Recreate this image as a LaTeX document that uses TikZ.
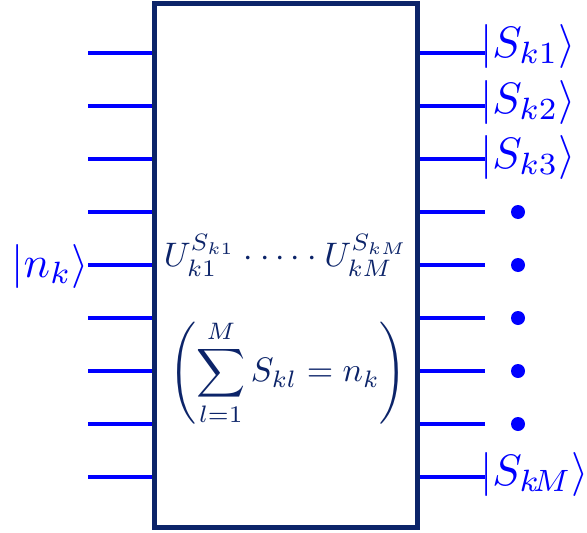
\documentclass[tikz,border=0pt]{standalone}
\usepackage{graphicx}
\usepackage{amsmath}
\definecolor{navy}{RGB}{12,36,105}
\definecolor{wireblue}{RGB}{0,0,255}
\newcommand{\ketsz}[1]{\scalebox{4.4}{#1}}
\newcommand{\insz}[1]{\scalebox{3.4}{#1}}
\tikzset{
  gate/.style={draw=navy, line width=4.5pt, minimum width=263pt, minimum height=524pt, inner sep=0pt},
  wire/.style={draw=wireblue, line width=3.5pt},
  ket/.style={text=wireblue, inner sep=0pt},
  inside/.style={text=navy, inner sep=0pt},
  blob/.style={circle, fill=wireblue, minimum size=14pt, inner sep=0pt}
}
\begin{document}
\begin{tikzpicture}[x=1pt,y=-1pt]
\useasboundingbox (0,0) rectangle (587,533);
\node[gate] (box) at (286,265.5) {};
% left wires
\foreach \i/\y in {1/53,2/106,3/159,4/212,5/265,6/318,7/371,8/424,9/477}{
  \coordinate (l\i) at (88,\y);
  \draw[wire] (l\i) -- (l\i -| box.west);
}
\node[ket, anchor=base east] (nk) at (89,277) {\ketsz{$|n_k\rangle$}};
% right wires
\foreach \i/\y in {1/53,2/106,3/159,4/212,5/265,6/318,7/371,8/424,9/477}{
  \coordinate (r\i) at (485,\y);
  \draw[wire] (r\i -| box.east) -- (r\i);
}
\node[ket, anchor=base west] (s1) at (480,57) {\ketsz{$|S_{k1}\rangle$}};
\node[ket, anchor=base west] (s2) at (480,113) {\ketsz{$|S_{k2}\rangle$}};
\node[ket, anchor=base west] (s3) at (480,168) {\ketsz{$|S_{k3}\rangle$}};
\node[ket, anchor=base west] (sM) at (480,485) {\ketsz{$|S_{k\!M}\rangle$}};
\foreach \i/\y in {4/212,5/265,6/318,7/371,8/424}{
  \node[blob] (d\i) at (518,\y) {};
}
% inside text
\node[inside, anchor=base] (uprod) at (286,266) {\insz{$U_{k1}^{S_{k1}}\cdot\cdots\cdot U_{kM}^{S_{kM}}$}};
\node[inside] (cons) at (288,373) {\insz{$\displaystyle\left(\sum_{l=1}^{M} S_{kl}=n_k\right)$}};
\end{tikzpicture}
\end{document}
